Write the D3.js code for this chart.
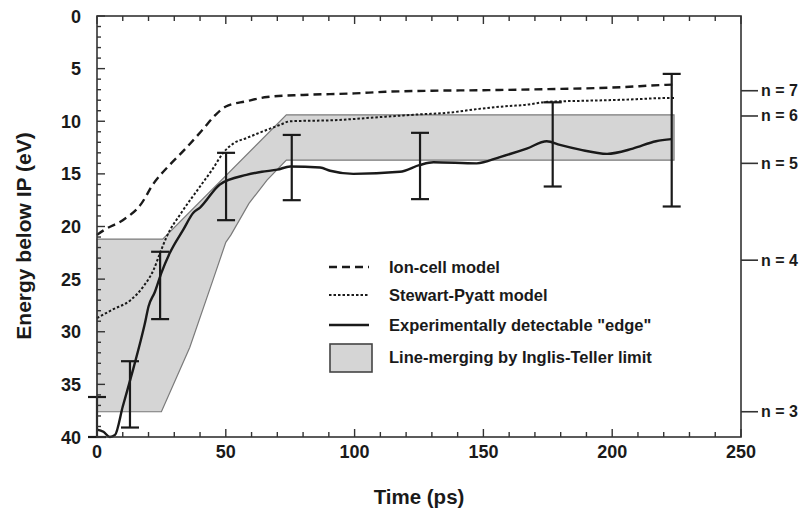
<!DOCTYPE html>
<html>
<head>
<meta charset="utf-8">
<script src="https://cdn.jsdelivr.net/npm/d3@7"></script>
<style>
  html, body { margin: 0; padding: 0; background: #fff; }
  svg { display: block; font-family: "Liberation Sans", Arial, Helvetica, sans-serif; font-weight: bold; }
</style>
</head>
<body>
<svg id="chart" width="809" height="517"></svg>
<script>
// ---- Data ----
const timeTicks = [0, 50, 100, 150, 200, 250];
const energyTicks = [0, 5, 10, 15, 20, 25, 30, 35, 40];
const levelLabels = ["n = 7", "n = 6", "n = 5", "n = 4", "n = 3"];
const levelEnergies = [7.1, 9.5, 14.0, 23.2, 37.6];

const ionCellT = [0, 3, 10, 17, 22, 28, 34, 41, 46, 50, 58, 66, 80, 100, 112, 130, 150, 175, 200, 220, 225];
const ionCellE = [20.8, 20.3, 19.4, 17.9, 15.9, 14.2, 12.7, 10.8, 9.4, 8.6, 8.1, 7.7, 7.5, 7.35, 7.2, 7.1, 7.05, 6.95, 6.8, 6.55, 6.5];

const stewartT = [0, 6, 13, 18, 22, 24.5, 27, 33, 40, 45, 49, 53, 58, 63, 71, 75, 92, 110, 125, 136, 149, 160, 166, 175, 190, 205, 221, 224];
const stewartE = [28.7, 27.9, 27.0, 25.7, 24.1, 22.5, 21.0, 18.6, 16.2, 14.5, 13.0, 12.1, 11.6, 11.1, 10.35, 10.0, 9.9, 9.6, 9.35, 9.2, 8.8, 8.55, 8.45, 8.15, 8.05, 7.95, 7.8, 7.8];

const edgeT = [0, 2.5, 5, 7, 10, 14, 16.7, 18.6, 20, 22.5, 25, 28.3, 33.5, 37.4, 40, 47.7, 58, 64, 70, 75, 86.6, 90.5, 99.5, 117.6, 125.4, 130.6, 147.4, 156.4, 166.8, 174.6, 179.7, 187.5, 198, 208, 217, 223];
const edgeE = [39.3, 39.5, 40, 39.8, 37.1, 33.6, 31.1, 29.2, 27.6, 26.2, 24.4, 22.5, 20.3, 18.7, 18.2, 16.0, 15.1, 14.8, 14.6, 14.3, 14.4, 14.7, 15.0, 14.8, 14.15, 13.9, 14.0, 13.4, 12.6, 11.9, 12.25, 12.7, 13.1, 12.6, 11.9, 11.7];

const errT = [0, 12.8, 24.5, 50.1, 75.6, 125.4, 176.9, 223.1];
const errTop = [36.2, 32.8, 22.4, 13.0, 11.3, 11.1, 8.2, 5.5];
const errBottom = [40, 39.1, 28.8, 19.4, 17.5, 17.4, 16.2, 18.1];

// Inglis-Teller band boundaries
const bandUpperT = [0, 25.5, 73.5, 224];
const bandUpperE = [21.2, 21.2, 9.4, 9.4];
const bandLowerT = [0, 25, 36, 45, 50, 52, 59, 66, 73.5, 224];
const bandLowerE = [37.6, 37.6, 31.5, 25.1, 21.5, 20.8, 17.8, 15.6, 13.7, 13.7];

const legendLabels = ["Ion-cell model", "Stewart-Pyatt model", "Experimentally detectable \"edge\"", "Line-merging by Inglis-Teller limit"];

// ---- Layout ----
const L = 97, R = 741, T = 16, B = 437;
const svg = d3.select("#chart");
const x = d3.scaleLinear().domain([0, 250]).range([L, R]);
const y = d3.scaleLinear().domain([0, 40]).range([T, B]);
const ink = "#1a1a1a";

// Band
const bandPts = bandUpperT.map((t, i) => [t, bandUpperE[i]])
  .concat(bandLowerT.map((t, i) => [t, bandLowerE[i]]).reverse());
svg.append("path")
  .attr("d", d3.line().x(d => x(d[0])).y(d => y(d[1]))(bandPts) + "Z")
  .attr("fill", "#d5d5d5")
  .attr("stroke", "#7a7a7a")
  .attr("stroke-width", 1.2);

const line = d3.line().x(d => x(d[0])).y(d => y(d[1])).curve(d3.curveMonotoneX);

// Ion-cell (dashed)
svg.append("path")
  .attr("d", line(ionCellT.map((t, i) => [t, ionCellE[i]])))
  .attr("fill", "none").attr("stroke", ink).attr("stroke-width", 2.4)
  .attr("stroke-dasharray", "8,5");

// Stewart-Pyatt (dotted)
svg.append("path")
  .attr("d", line(stewartT.map((t, i) => [t, stewartE[i]])))
  .attr("fill", "none").attr("stroke", ink).attr("stroke-width", 2)
  .attr("stroke-dasharray", "2.5,2");

// Experimental edge (solid)
svg.append("path")
  .attr("d", line(edgeT.map((t, i) => [t, edgeE[i]])))
  .attr("fill", "none").attr("stroke", ink).attr("stroke-width", 2.4);

// Error bars
const cap = 9;
errT.forEach((t, i) => {
  const g = svg.append("g").attr("stroke", ink).attr("stroke-width", 2.2);
  g.append("line").attr("x1", x(t)).attr("x2", x(t)).attr("y1", y(errTop[i])).attr("y2", y(errBottom[i]));
  g.append("line").attr("x1", x(t) - cap).attr("x2", x(t) + cap).attr("y1", y(errTop[i])).attr("y2", y(errTop[i]));
  g.append("line").attr("x1", x(t) - cap).attr("x2", x(t) + cap).attr("y1", y(errBottom[i])).attr("y2", y(errBottom[i]));
});

// Frame
const axisColor = "#333";
svg.append("rect").attr("x", L).attr("y", T).attr("width", R - L).attr("height", B - T)
  .attr("fill", "none").attr("stroke", axisColor).attr("stroke-width", 1.6);

// Bottom & top ticks (every 10 ps, major every 50)
const xMinor = d3.range(0, 251, 10);
xMinor.forEach(t => {
  const len = (t % 50 === 0) ? 8 : 5;
  svg.append("line").attr("x1", x(t)).attr("x2", x(t)).attr("y1", B).attr("y2", B - len)
    .attr("stroke", axisColor).attr("stroke-width", 1.4);
  svg.append("line").attr("x1", x(t)).attr("x2", x(t)).attr("y1", T).attr("y2", T + len)
    .attr("stroke", axisColor).attr("stroke-width", 1.4);
});
// Left ticks (every 1 eV, major every 5)
d3.range(0, 41, 1).forEach(e => {
  const len = (e % 5 === 0) ? 8 : 4;
  svg.append("line").attr("x1", L).attr("x2", L + len).attr("y1", y(e)).attr("y2", y(e))
    .attr("stroke", axisColor).attr("stroke-width", 1.4);
});

// Tick labels
svg.append("g").selectAll("text").data(timeTicks).join("text")
  .attr("x", d => x(d)).attr("y", 458)
  .attr("text-anchor", "middle").attr("font-size", 18).attr("fill", ink)
  .text(d => d);
svg.append("g").selectAll("text").data(energyTicks).join("text")
  .attr("x", 81).attr("y", d => y(d) + 6.5)
  .attr("text-anchor", "end").attr("font-size", 18).attr("fill", ink)
  .text(d => d);

// Axis titles
svg.append("text").attr("x", (L + R) / 2).attr("y", 504).attr("text-anchor", "middle")
  .attr("font-size", 20.5).attr("fill", ink).text("Time (ps)");
svg.append("text").attr("transform", "translate(31,236) rotate(-90)")
  .attr("text-anchor", "middle").attr("font-size", 21).attr("fill", ink).text("Energy below IP (eV)");

// Right level ticks
levelEnergies.forEach((e, i) => {
  svg.append("line").attr("x1", R).attr("x2", R + 17).attr("y1", y(e)).attr("y2", y(e))
    .attr("stroke", axisColor).attr("stroke-width", 1.6);
  svg.append("text").attr("x", R + 20).attr("y", y(e) + 5.5).attr("font-size", 16).attr("fill", ink)
    .text(levelLabels[i]);
});

// Legend
const lgX = 329, lgW = 40, lgTextX = 389;
const lgY = [267, 295, 325, 357];
const styles = [
  { dash: "8,5", w: 2.4 },
  { dash: "2.5,2", w: 2 },
  { dash: null, w: 2.4 }
];
styles.forEach((s, i) => {
  const l = svg.append("line").attr("x1", lgX).attr("x2", lgX + lgW).attr("y1", lgY[i]).attr("y2", lgY[i])
    .attr("stroke", ink).attr("stroke-width", s.w);
  if (s.dash) l.attr("stroke-dasharray", s.dash);
});
svg.append("rect").attr("x", lgX + 1).attr("y", lgY[3] - 13).attr("width", lgW + 2).attr("height", 28)
  .attr("fill", "#d5d5d5").attr("stroke", "#444").attr("stroke-width", 1.6);
legendLabels.forEach((lab, i) => {
  svg.append("text").attr("x", lgTextX).attr("y", lgY[i] + 5.5).attr("font-size", 16.5).attr("fill", ink).text(lab);
});
</script>
</body>
</html>
